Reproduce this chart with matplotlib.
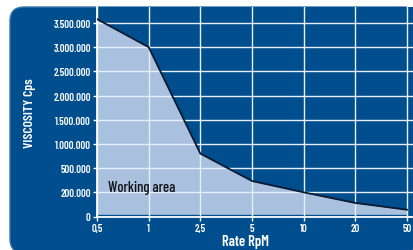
import numpy as np
import matplotlib
matplotlib.use('Agg')
import matplotlib.pyplot as plt
from matplotlib.patches import FancyBboxPatch
from matplotlib.transforms import IdentityTransform

plt.rcParams['font.family'] = ['Barlow Condensed', 'DejaVu Sans']

# Input data
rate_labels = ['0,5', '1', '2,5', '5', '10', '20', '50']  # RpM
viscosity = [3580000, 3000000, 800000, 340000, 200000, 112000, 56000]  # Cps, upper limit
viscosity_low = [18000] * 7  # Cps, lower limit
ytick_vals = [0, 200000, 500000, 1000000, 1500000, 2000000, 2500000, 3000000, 3500000]
ytick_labels = ['0', '200.000', '500.000', '1.000.000', '1.500.000',
                '2.000.000', '2.500.000', '3.000.000', '3.500.000']

panel_blue = '#004e8e'
fill_blue = '#a9c1df'

# the y ticks are evenly spaced, so values are mapped piecewise onto tick positions
scale_vals = np.array(ytick_vals + [4000000, 4500000], dtype=float)
scale_idx = np.arange(len(scale_vals), dtype=float)

def to_pos(v):
    return np.interp(v, scale_vals, scale_idx)

fig = plt.figure(figsize=(4.14, 2.51), dpi=100, facecolor='white')

# rounded dark blue panel behind everything
panel = FancyBboxPatch((10, -3), 407, 246, boxstyle='round,pad=0,rounding_size=14',
                       transform=IdentityTransform(), facecolor=panel_blue,
                       edgecolor='#3a72ad', lw=1.0, zorder=-5)
fig.add_artist(panel)

ax = fig.add_axes([97 / 414, 1 - 217.5 / 251, (414 - 97) / 414, (217.5 - 8) / 251])
ax.set_zorder(1)
ax.set_facecolor(panel_blue)

x = np.arange(len(rate_labels))
ax.fill_between(x, to_pos(viscosity_low), to_pos(viscosity), color=fill_blue, lw=0, zorder=1)
ax.plot(x, to_pos(viscosity), color='#0a1a30', lw=1.3, zorder=3)

ax.set_xlim(0, (414 - 97) / 51.67)
ax.set_ylim(0, 8.66)
ax.set_xticks(x)
ax.set_xticklabels(rate_labels)
ax.set_yticks(to_pos(ytick_vals))
ax.set_yticklabels(ytick_labels)

ax.grid(True, color='#e6eef8', lw=1.0, zorder=2)
ax.set_axisbelow('line')
for s in ['top', 'right']:
    ax.spines[s].set_visible(False)
for s in ['left', 'bottom']:
    ax.spines[s].set_color('white')
    ax.spines[s].set_linewidth(1.3)
ax.tick_params(colors='white', labelsize=7.6, length=3, width=1, pad=1.5)
for lab in ax.get_xticklabels() + ax.get_yticklabels():
    lab.set_fontweight(600)

ax.text(0.21, to_pos(270000), 'Working area', fontsize=10.5, fontweight=500,
        color='#111111', va='center', ha='left')

ax.set_xlabel('Rate RpM', color='white', fontsize=10.5, fontweight=600, labelpad=1)
ax.xaxis.set_label_coords((246 - 97) / 317, -(235 - 217.5) / 209.5)
ax.xaxis.label.set_va('top')
ax.set_ylabel('VISCOSITY Cps', color='white', fontsize=9.8, fontweight=600, labelpad=1)
ax.yaxis.set_label_coords(-(97 - 36) / 317, 0.5)

fig.savefig('out.png', dpi=100, facecolor='white')
